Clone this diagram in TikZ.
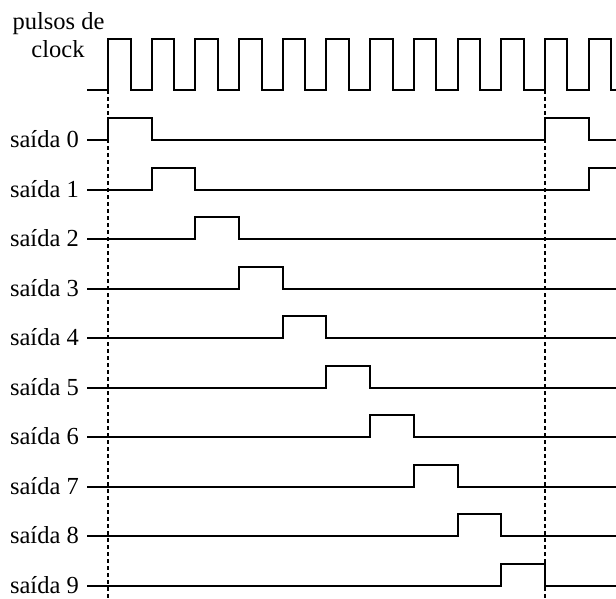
\documentclass[tikz,border=0pt]{standalone}
\usepackage{fontspec}
\setmainfont{Liberation Serif}
\begin{document}
\begin{tikzpicture}[x=1pt,y=-1pt,
  sig/.style={line width=2.3pt,line join=miter},
  guide/.style={line width=2pt,dash pattern=on 4pt off 3pt},
  lbl/.style={anchor=base east,inner sep=0pt,font=\fontsize{24.5}{28}\selectfont},
  ttl/.style={anchor=base,inner sep=0pt,font=\fontsize{24.5}{28}\selectfont}]
\useasboundingbox (0,0) rectangle (616,599);
% clock label
\node[ttl] (t1) at (58.5,30) {pulsos de};
\node[ttl] (t2) at (58,58) {clock};
% clock waveform
\draw[sig] (87,90) \foreach \k in {0,...,11}{
  -- ({round(108+43.7*\k)},90) -- ({round(108+43.7*\k)},39) -- ({round(130.5+43.7*\k)},39) -- ({round(130.5+43.7*\k)},90)} -- (616,90);
% guides
\coordinate (g1a) at (108,90); \coordinate (g1b) at (108,599);
\coordinate (g2a) at (545,90); \coordinate (g2b) at (545,599);
\draw[guide] (g1a) -- (g1b);
\draw[guide] (g2a) -- (g2b);
% labels
\foreach \k in {0,...,9}{
  \node[lbl] (s\k) at (79,{round(140+49.5*\k)+7.5}) {saída \k};
}
% output 0
\draw[sig] (87,140) -- (108,140) -- (108,118) -- (152,118) -- (152,140) -- (545,140) -- (545,118) -- (589,118) -- (589,140) -- (616,140);
% output 1
\draw[sig] (87,190) -- (152,190) -- (152,168) -- (195,168) -- (195,190) -- (589,190) -- (589,168) -- (616,168);
% outputs 2..9
\foreach \k in {2,...,9}{
  \pgfmathsetmacro{\yb}{round(140+49.5*\k)}
  \pgfmathsetmacro{\yh}{\yb-22}
  \pgfmathsetmacro{\xr}{round(108+43.7*\k)}
  \pgfmathsetmacro{\xf}{round(108+43.7*(\k+1))}
  \draw[sig] (87,\yb) -- (\xr,\yb) -- (\xr,\yh) -- (\xf,\yh) -- (\xf,\yb) -- (616,\yb);
}
\end{tikzpicture}
\end{document}
